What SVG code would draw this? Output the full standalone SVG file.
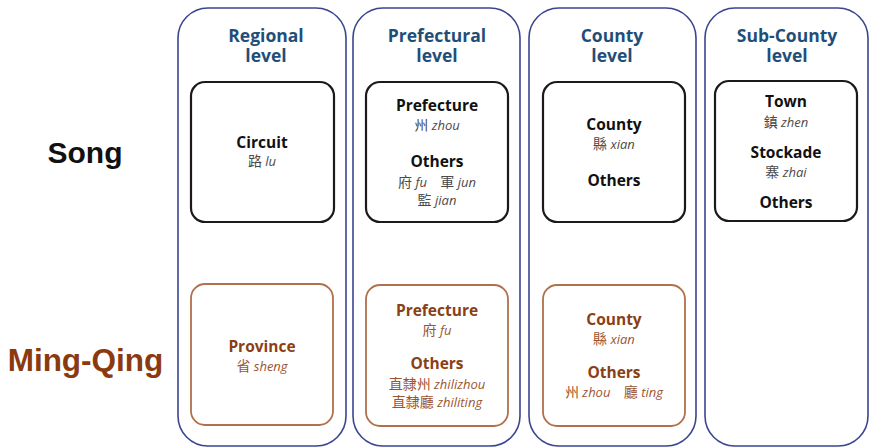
<svg xmlns="http://www.w3.org/2000/svg" width="869" height="447" viewBox="0 0 869 447">
  <style>
    .col { fill: #ffffff; stroke: #3a4590; stroke-width: 1.6; }
    .song { fill: #ffffff; stroke: #1a1a1a; stroke-width: 2.2; }
    .mq { fill: #ffffff; stroke: #b0704a; stroke-width: 1.8; }
    .head { font-family: "Open Sans", "Liberation Sans", sans-serif; font-weight: 700; font-size: 17.5px; fill: #1f4e79; text-anchor: middle; }
    .era { font-family: "Liberation Sans", Arial, sans-serif; font-weight: 700; font-size: 30px; text-anchor: middle; }
    .lab { font-family: "Open Sans", "Liberation Sans", sans-serif; font-weight: 700; font-size: 15.5px; text-anchor: middle; }
    .sub { font-family: "Open Sans", "Noto Sans CJK TC", sans-serif; font-size: 13px; text-anchor: middle; }
    .zh { font-family: "Noto Sans CJK TC", sans-serif; font-style: normal; font-size: 14px; }
    .py { font-family: "Open Sans", "Liberation Sans", sans-serif; font-style: italic; }
    .dk { fill: #111111; }
    .dks { fill: #4a4a4a; }
    .br { fill: #8b3f14; }
    .brs { fill: #9a5530; }
  </style>

  <rect width="869" height="447" fill="#ffffff"/>

  <!-- era labels -->
  <text class="era dk" x="85" y="163">Song</text>
  <text class="era" x="85.5" y="371" fill="#8b3a0f" style="font-size:31.5px">Ming-Qing</text>

  <!-- level columns -->
  <g id="col-regional">
    <rect class="col" x="178" y="8" width="168" height="438" rx="30"/>
    <text class="head" x="266" y="42">Regional</text>
    <text class="head" x="266" y="62">level</text>
  </g>
  <g id="col-prefectural">
    <rect class="col" x="353" y="8" width="167" height="438" rx="30"/>
    <text class="head" x="437" y="42">Prefectural</text>
    <text class="head" x="437" y="62">level</text>
  </g>
  <g id="col-county">
    <rect class="col" x="529" y="8" width="167" height="438" rx="30"/>
    <text class="head" x="612" y="42">County</text>
    <text class="head" x="612" y="62">level</text>
  </g>
  <g id="col-subcounty">
    <rect class="col" x="705" y="8" width="163" height="438" rx="30"/>
    <text class="head" x="787" y="42">Sub-County</text>
    <text class="head" x="787" y="62">level</text>
  </g>

  <!-- Song units -->
  <g id="song-regional">
    <rect class="song" x="191" y="82" width="143" height="140" rx="14"/>
    <text class="lab dk" x="262" y="148">Circuit</text>
    <text class="sub dks" x="262" y="166"><tspan class="zh">路</tspan> <tspan class="py">lu</tspan></text>
  </g>
  <g id="song-prefectural">
    <rect class="song" x="366" y="82" width="142" height="140" rx="14"/>
    <text class="lab dk" x="437" y="111">Prefecture</text>
    <text class="sub dks" x="437" y="130"><tspan class="zh">州</tspan> <tspan class="py">zhou</tspan></text>
    <text class="lab dk" x="437" y="167">Others</text>
    <text class="sub dks" x="437" y="187"><tspan class="zh">府</tspan> <tspan class="py">fu</tspan> <tspan class="zh" dx="10">軍</tspan> <tspan class="py">jun</tspan></text>
    <text class="sub dks" x="437" y="205"><tspan class="zh">監</tspan> <tspan class="py">jian</tspan></text>
  </g>
  <g id="song-county">
    <rect class="song" x="543" y="82" width="142" height="140" rx="14"/>
    <text class="lab dk" x="614" y="130">County</text>
    <text class="sub dks" x="614" y="149"><tspan class="zh">縣</tspan> <tspan class="py">xian</tspan></text>
    <text class="lab dk" x="614" y="186">Others</text>
  </g>
  <g id="song-subcounty">
    <rect class="song" x="715" y="81" width="142" height="140" rx="14"/>
    <text class="lab dk" x="786" y="107">Town</text>
    <text class="sub dks" x="786" y="127"><tspan class="zh">鎮</tspan> <tspan class="py">zhen</tspan></text>
    <text class="lab dk" x="786" y="158">Stockade</text>
    <text class="sub dks" x="786" y="177"><tspan class="zh">寨</tspan> <tspan class="py">zhai</tspan></text>
    <text class="lab dk" x="786" y="208">Others</text>
  </g>

  <!-- Ming-Qing units -->
  <g id="mq-regional">
    <rect class="mq" x="191" y="284" width="142" height="141" rx="14"/>
    <text class="lab br" x="262" y="352">Province</text>
    <text class="sub brs" x="262" y="371"><tspan class="zh">省</tspan> <tspan class="py">sheng</tspan></text>
  </g>
  <g id="mq-prefectural">
    <rect class="mq" x="366" y="285" width="142" height="141" rx="14"/>
    <text class="lab br" x="437" y="316">Prefecture</text>
    <text class="sub brs" x="437" y="335"><tspan class="zh">府</tspan> <tspan class="py">fu</tspan></text>
    <text class="lab br" x="437" y="369">Others</text>
    <text class="sub brs" x="437" y="389"><tspan class="zh">直隸州</tspan> <tspan class="py">zhilizhou</tspan></text>
    <text class="sub brs" x="437" y="407"><tspan class="zh">直隸廳</tspan> <tspan class="py">zhiliting</tspan></text>
  </g>
  <g id="mq-county">
    <rect class="mq" x="543" y="285" width="142" height="141" rx="14"/>
    <text class="lab br" x="614" y="325">County</text>
    <text class="sub brs" x="614" y="344"><tspan class="zh">縣</tspan> <tspan class="py">xian</tspan></text>
    <text class="lab br" x="614" y="378">Others</text>
    <text class="sub brs" x="614" y="397"><tspan class="zh">州</tspan> <tspan class="py">zhou</tspan> <tspan class="zh" dx="10">廳</tspan> <tspan class="py">ting</tspan></text>
  </g>

  <!-- no connectors in this layout -->
  <g id="connectors"/>
</svg>
